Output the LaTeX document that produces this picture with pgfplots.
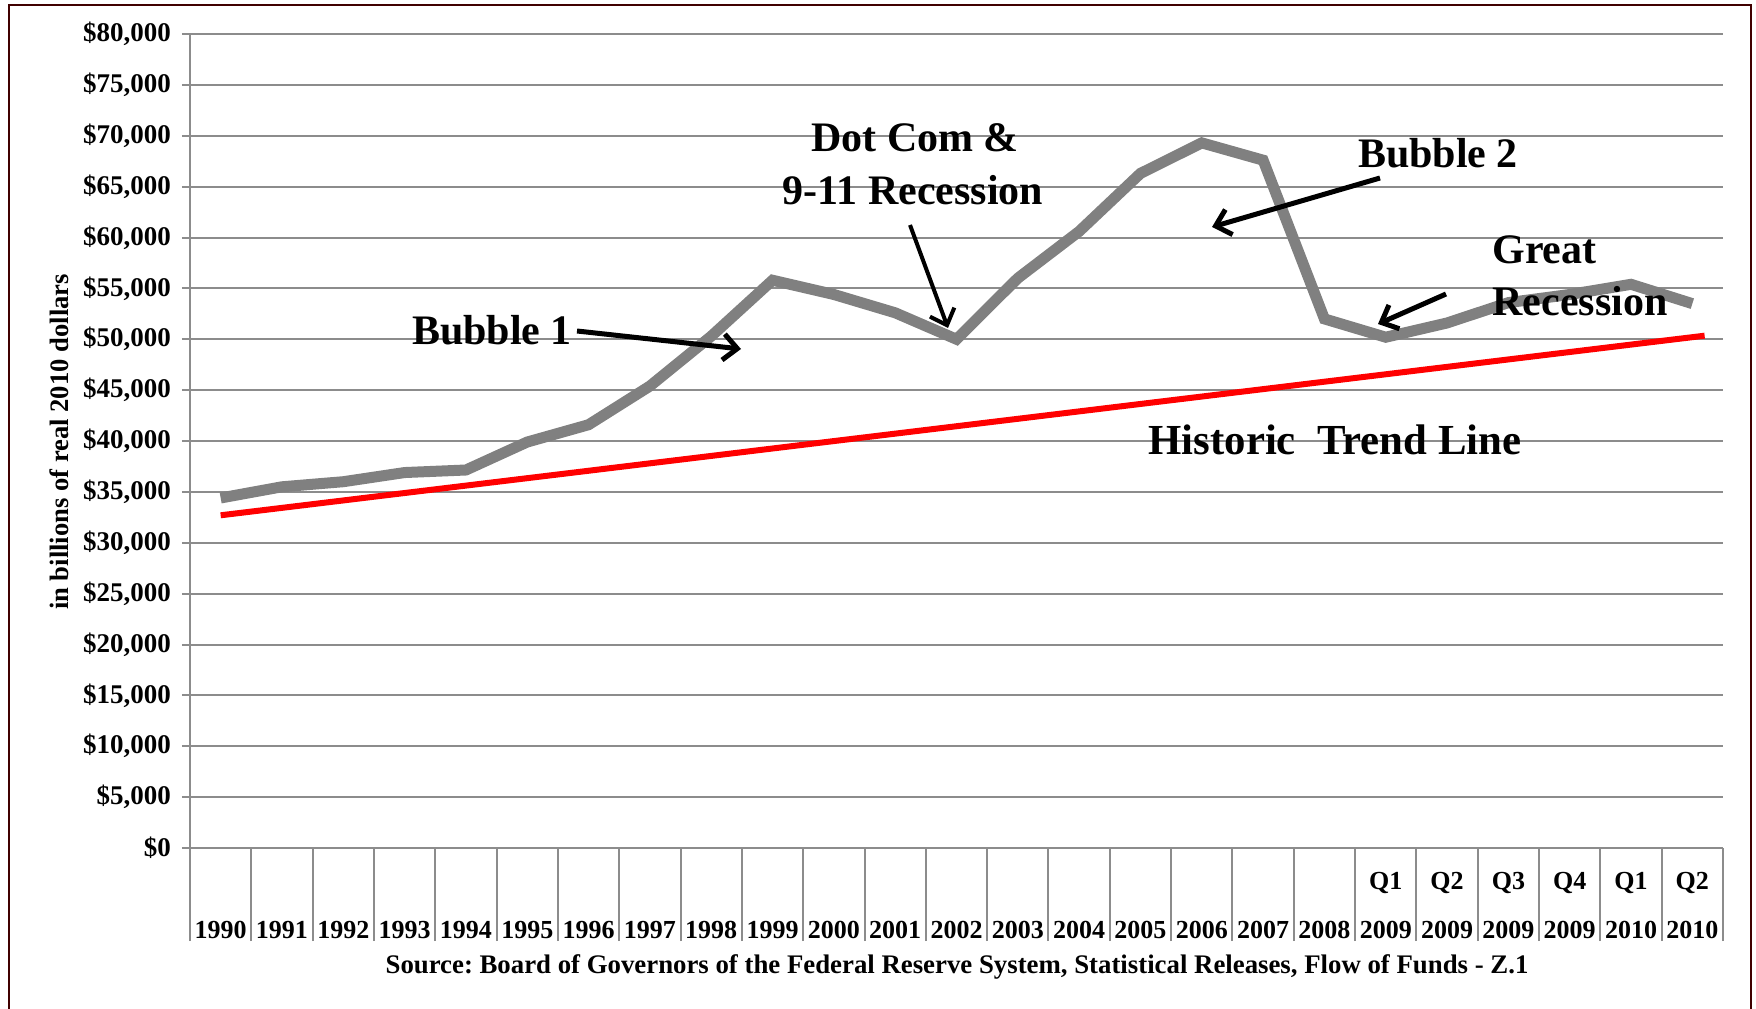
\documentclass[border=0pt]{standalone}
\usepackage{fontspec}
\setmainfont{Liberation Serif}
\usepackage{pgfplots}
\pgfplotsset{compat=1.18}
\usetikzlibrary{arrows.meta}
\definecolor{gline}{RGB}{128,128,128}
\definecolor{gridc}{RGB}{140,140,140}
\definecolor{frame}{RGB}{64,0,0}
\frenchspacing

\pgfplotstableread{
x y
0 34400
1 35500
2 36000
3 36900
4 37150
5 39900
6 41600
7 45400
8 50300
9 55800
10 54400
11 52600
12 50000
13 56000
14 60600
15 66300
16 69300
17 67600
18 52000
19 50200
20 51600
21 53600
22 54400
23 55400
24 53500
}\wealth

\pgfplotstableread{
x y
0 32700
24.2 50350
}\trend

\begin{document}
\begin{tikzpicture}
\useasboundingbox (0,0) rectangle (878pt,504pt);
\draw[frame, line width=1pt] (4.5pt,-5pt) -- (4.5pt,501.5pt) -- (875.5pt,501.5pt) -- (875.5pt,-5pt);
\begin{axis}[
  at={(95pt,80pt)}, anchor=south west,
  scale only axis, width=766.5pt, height=407pt,
  xmin=-0.5, xmax=24.5, ymin=0, ymax=80000,
  axis x line*=bottom, axis y line*=left,
  axis line style={gridc, line width=1pt, -},
  ytick distance=5000,
  ymajorgrids, grid style={gridc, line width=1pt},
  scaled y ticks=false,
  tick align=outside,
  major tick length=4pt,
  ytick style={gridc, line width=1pt},
  yticklabel={\$\pgfmathprintnumber{\tick}},
  /pgf/number format/.cd, fixed, 1000 sep={,}, assume math mode=true,
  /pgfplots/.cd,
  yticklabel style={font=\fontsize{13.5}{16}\selectfont\bfseries, xshift=-2pt},
  xtick={0,...,24},
  xticklabels={1990,1991,1992,1993,1994,1995,1996,1997,1998,1999,2000,2001,2002,2003,2004,2005,2006,2007,2008,2009,2009,2009,2009,2010,2010},
  xticklabel style={font=\fontsize{13}{16}\selectfont\bfseries, anchor=base, yshift=-41pt},
  major x tick style={draw=none},
  minor xtick={-0.5,0.5,...,24.5},
  minor x tick style={gridc, line width=1pt},
  minor tick length=46.5pt,
  extra x ticks={19,20,21,22,23,24},
  extra x tick labels={Q1,Q2,Q3,Q4,Q1,Q2},
  extra x tick style={major x tick style={draw=none}, xticklabel style={yshift=24.25pt}},
  clip=false,
]
\addplot[red, line width=3pt] table[x=x,y=y] {\trend};
\addplot[gline, line width=5.5pt, line join=miter] table[x=x,y=y] {\wealth};
\end{axis}
\begin{scope}[font=\fontsize{21}{25}\selectfont\bfseries, arr/.style={line width=2.5pt, -{Straight Barb[length=7pt,width=13pt]}}]
\node at (246pt,339pt) {Bubble 1};
\draw[arr] (288.5pt,338.5pt) -- (370.5pt,329.5pt);
\node at (457.5pt,435pt) {Dot Com \&};
\node at (456.5pt,409pt) {9-11 Recession};
\draw[arr, line width=2pt] (455pt,391.5pt) -- (474pt,340pt);
\node at (719pt,427.5pt) {Bubble 2};
\draw[arr] (690pt,415pt) -- (606pt,390.5pt);
\node[anchor=west, inner sep=0pt] at (746pt,379pt) {Great};
\node[anchor=west, inner sep=0pt] at (746pt,353.5pt) {Recession};
\draw[arr] (723pt,357pt) -- (689pt,342pt);
\node[font=\fontsize{21.4}{25}\selectfont\bfseries] at (667.5pt,284pt) {Historic\ \ Trend Line};
\end{scope}
\node[rotate=90, font=\fontsize{13.3}{16}\selectfont\bfseries] at (29.5pt,283pt) {in billions of real 2010 dollars};
\node[font=\fontsize{13.4}{15}\selectfont\bfseries] at (478.5pt,20.5pt) {Source: Board of Governors of the Federal Reserve System, Statistical Releases, Flow of Funds - Z.1};
\end{tikzpicture}
\end{document}
